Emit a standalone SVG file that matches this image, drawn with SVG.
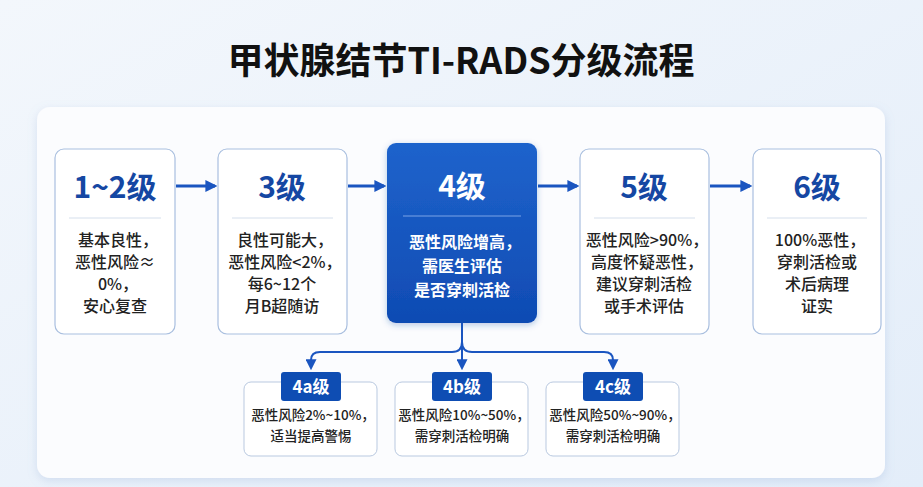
<svg xmlns="http://www.w3.org/2000/svg" width="923" height="487" viewBox="0 0 923 487">
<defs>
<linearGradient id="bg" x1="0" y1="0" x2="1" y2="1"><stop offset="0" stop-color="#f3f7fc"/><stop offset="1" stop-color="#e3edf9"/></linearGradient>
<linearGradient id="blue" x1="0" y1="0" x2="0" y2="1"><stop offset="0" stop-color="#1f63cc"/><stop offset="1" stop-color="#0f4bb3"/></linearGradient>
<filter id="sh" x="-10%" y="-10%" width="120%" height="130%"><feDropShadow dx="0" dy="3" stdDeviation="5" flood-color="#7f9fcf" flood-opacity="0.25"/></filter>
<filter id="sh2" x="-10%" y="-10%" width="120%" height="130%"><feDropShadow dx="0" dy="2" stdDeviation="3" flood-color="#1f4fa8" flood-opacity="0.3"/></filter>
<marker id="ah" viewBox="0 0 10 10" refX="8" refY="5" markerWidth="4" markerHeight="4" orient="auto" markerUnits="strokeWidth"><path d="M0,0 L10,5 L0,10 z" fill="#1a55c0"/></marker>
<marker id="ah2" viewBox="0 0 10 10" refX="8" refY="5" markerWidth="5.5" markerHeight="5.5" orient="auto" markerUnits="strokeWidth"><path d="M0,0 L10,5 L0,10 z" fill="#1a55c0"/></marker>
</defs>
<style>
text{font-family:"Noto Sans CJK SC","Noto Sans",sans-serif;text-anchor:middle}
.node{fill:#ffffff;stroke:#a9bfdf;stroke-width:1.2}
.ttl{font-size:30px;font-weight:700;fill:#1547a3}
.body{font-size:16px;font-weight:500;fill:#222}
.div{stroke:#d5dfec;stroke-width:1}
.sub{fill:#ffffff;stroke:#b9c9e0;stroke-width:1}
.badge{fill:#0e4db3}
.bt{font-size:17px;font-weight:700;fill:#fff}
.sb{font-size:13.5px;font-weight:500;fill:#222}
.conn{fill:none;stroke:#1a55c0;stroke-width:3}
.br{fill:none;stroke:#1a55c0;stroke-width:2}
</style>
<rect width="923" height="487" fill="url(#bg)"/>
<text x="461" y="74" style="font-size:36px;font-weight:700;fill:#111">甲状腺结节TI-RADS分级流程</text>
<rect x="37" y="107" width="848" height="371" rx="13" fill="#fbfcfe" filter="url(#sh)"/>
<g id="connectors">
<line class="conn" x1="176" y1="186" x2="215" y2="186" marker-end="url(#ah)"/>
<line class="conn" x1="348" y1="186" x2="384" y2="186" marker-end="url(#ah)"/>
<line class="conn" x1="538" y1="186" x2="577" y2="186" marker-end="url(#ah)"/>
<line class="conn" x1="710" y1="186" x2="750" y2="186" marker-end="url(#ah)"/>
<path class="br" d="M462,323 V342 Q462,352 452,352 H320 Q311,352 311,360 V368" marker-end="url(#ah2)"/>
<path class="br" d="M462,342 Q462,352 472,352 H604 Q613,352 613,360 V368" marker-end="url(#ah2)"/>
<path class="br" d="M462,342 V368" marker-end="url(#ah2)"/>
</g>
<g id="n12">
<rect class="node" x="55" y="149" width="120" height="185" rx="9"/>
<text class="ttl" x="115" y="198">1~2级</text>
<line class="div" x1="69" y1="218" x2="161" y2="218"/>
<text class="body" x="118" y="246">基本良性，</text>
<text class="body" x="115" y="268">恶性风险≈</text>
<text class="body" x="118" y="290">0%，</text>
<text class="body" x="115" y="312">安心复查</text>
</g>
<g id="n3">
<rect class="node" x="218" y="149" width="129" height="185" rx="9"/>
<text class="ttl" x="282" y="198">3级</text>
<line class="div" x1="232" y1="218" x2="333" y2="218"/>
<text class="body" x="285" y="246">良性可能大，</text>
<text class="body" x="285" y="268">恶性风险&lt;2%，</text>
<text class="body" x="282" y="290">每6~12个</text>
<text class="body" x="282" y="312">月B超随访</text>
</g>
<g id="n4">
<rect x="387" y="143" width="150" height="180" rx="9" fill="url(#blue)" filter="url(#sh2)"/>
<text class="ttl" x="462" y="197" style="fill:#fff">4级</text>
<line x1="403" y1="216" x2="521" y2="216" stroke="#7aa3e6" stroke-width="1"/>
<text class="body" x="465" y="248" style="fill:#fff;font-weight:700">恶性风险增高，</text>
<text class="body" x="462" y="272" style="fill:#fff;font-weight:700">需医生评估</text>
<text class="body" x="462" y="296" style="fill:#fff;font-weight:700">是否穿刺活检</text>
</g>
<g id="n5">
<rect class="node" x="580" y="149" width="129" height="185" rx="9"/>
<text class="ttl" x="644" y="198">5级</text>
<line class="div" x1="594" y1="218" x2="695" y2="218"/>
<text class="body" x="647" y="246">恶性风险&gt;90%，</text>
<text class="body" x="647" y="268">高度怀疑恶性，</text>
<text class="body" x="644" y="290">建议穿刺活检</text>
<text class="body" x="644" y="312">或手术评估</text>
</g>
<g id="n6">
<rect class="node" x="753" y="149" width="128" height="185" rx="9"/>
<text class="ttl" x="817" y="198">6级</text>
<line class="div" x1="767" y1="218" x2="867" y2="218"/>
<text class="body" x="820" y="246">100%恶性，</text>
<text class="body" x="817" y="268">穿刺活检或</text>
<text class="body" x="817" y="290">术后病理</text>
<text class="body" x="817" y="312">证实</text>
</g>
<g id="n4a">
<rect class="sub" x="244" y="382" width="133" height="74" rx="7"/>
<rect class="badge" x="281" y="372" width="60" height="29" rx="3"/>
<text class="bt" x="311" y="393">4a级</text>
<text class="sb" x="313" y="420">恶性风险2%~10%，</text>
<text class="sb" x="311" y="441">适当提高警惕</text>
</g>
<g id="n4b">
<rect class="sub" x="395" y="382" width="133" height="74" rx="7"/>
<rect class="badge" x="432" y="372" width="60" height="29" rx="3"/>
<text class="bt" x="462" y="393">4b级</text>
<text class="sb" x="464" y="420">恶性风险10%~50%，</text>
<text class="sb" x="462" y="441">需穿刺活检明确</text>
</g>
<g id="n4c">
<rect class="sub" x="546" y="382" width="133" height="74" rx="7"/>
<rect class="badge" x="583" y="372" width="60" height="29" rx="3"/>
<text class="bt" x="613" y="393">4c级</text>
<text class="sb" x="615" y="420">恶性风险50%~90%，</text>
<text class="sb" x="613" y="441">需穿刺活检明确</text>
</g>
</svg>
